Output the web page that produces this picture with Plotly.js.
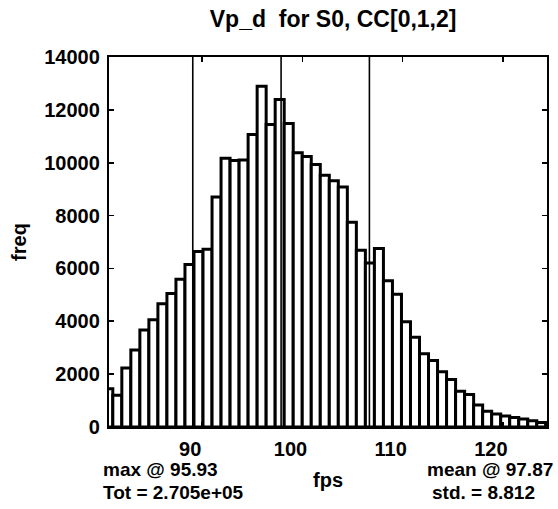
<!DOCTYPE html>
<html>
<head>
<meta charset="utf-8">
<script src="https://cdn.plot.ly/plotly-3.0.1.min.js"></script>
<style>html,body{margin:0;padding:0;background:#fff;}#chart{width:558px;height:509px;}</style>
</head>
<body>
<div id="chart"></div>
<script>
// Bin centres (fps) of the histogram bars
var binCenters = [80.63, 81.53, 82.43, 83.33, 84.23, 85.13, 86.03, 86.93, 87.83, 88.73,
  89.63, 90.53, 91.43, 92.33, 93.23, 94.13, 95.03, 95.93, 96.83, 97.73,
  98.63, 99.53, 100.43, 101.33, 102.23, 103.13, 104.03, 104.93, 105.83, 106.73,
  107.63, 108.53, 109.43, 110.33, 111.23, 112.13, 113.03, 113.93, 114.83, 115.73,
  116.63, 117.53, 118.43, 119.33, 120.23, 121.13, 122.03, 122.93, 123.83, 124.73];
// Frequency per bin
var freq = [1450, 1200, 2230, 2910, 3670, 4060, 4660, 5050, 5590, 6150,
  6640, 6730, 8700, 10170, 10080, 10100, 11070, 12890, 11450, 12390,
  11480, 10375, 10235, 9930, 9530, 9320, 9085, 7750, 6690, 6210,
  6750, 5530, 5025, 3985, 3393, 2770, 2515, 2087, 1800, 1350,
  1230, 830, 600, 490, 420, 360, 300, 240, 170, 100];
var binWidth = 0.9;
// mean - std, mean, mean + std
var refLines = [89.058, 97.87, 106.682];
var yTicks = [0, 2000, 4000, 6000, 8000, 10000, 12000, 14000];
var xTicks = [90, 100, 110, 120];
var titleText = "Vp_d\u00a0 for S0, CC[0,1,2]";
var statsLeft = ["max @ 95.93", "Tot = 2.705e+05"];
var statsRight = ["mean @ 97.87", "std. = 8.812"];

var lx = [], ly = [];
refLines.forEach(function (v) { lx.push(v, v, null); ly.push(0, 14000, null); });

var font = "Liberation Sans, Arial, sans-serif";
var data = [
  {
    type: "bar", x: binCenters, y: freq, width: binWidth,
    marker: { color: "#ffffff", line: { color: "#000000", width: 3 } },
    hoverinfo: "x+y"
  },
  {
    type: "scatter", mode: "lines", x: lx, y: ly,
    line: { color: "#000000", width: 1.6 }, hoverinfo: "skip"
  }
];

var axisCommon = {
  showline: true, linecolor: "#000", linewidth: 2.2, mirror: "ticks",
  ticks: "inside", ticklen: 5, tickwidth: 1.6, tickcolor: "#000",
  showgrid: false, zeroline: false,
  tickfont: { family: font, size: 20, color: "#000", weight: "bold" }
};

var layout = {
  width: 558, height: 509,
  margin: { l: 109, r: 11, t: 57, b: 82 },
  paper_bgcolor: "#fff", plot_bgcolor: "#fff",
  showlegend: false, bargap: 0,
  title: {
    text: titleText, x: 0.597, xanchor: "center", y: 0.962, yanchor: "middle",
    font: { family: font, size: 23, color: "#000", weight: "bold" }
  },
  xaxis: Object.assign({}, axisCommon, {
    range: [80.7, 124.4], tickvals: xTicks, ticktext: xTicks.map(String),
    ticklabelstandoff: 3, ticklabelshift: -12,
    title: { text: "fps", standoff: 14, font: { family: font, size: 20, color: "#000", weight: "bold" } }
  }),
  yaxis: Object.assign({}, axisCommon, {
    range: [0, 14000], tickvals: yTicks, ticktext: yTicks.map(String),
    ticklabelstandoff: 3,
    title: { text: "freq", standoff: 12, font: { family: font, size: 20, color: "#000", weight: "bold" } }
  }),
  annotations: [
    { text: statsLeft[0], xref: "paper", yref: "paper", x: -0.018, y: -0.116, xanchor: "left", yanchor: "middle", showarrow: false, font: { family: font, size: 19, color: "#000", weight: "bold" } },
    { text: statsLeft[1], xref: "paper", yref: "paper", x: -0.018, y: -0.178, xanchor: "left", yanchor: "middle", showarrow: false, font: { family: font, size: 19, color: "#000", weight: "bold" } },
    { text: statsRight[0], xref: "paper", yref: "paper", x: 0.7215, y: -0.116, xanchor: "left", yanchor: "middle", showarrow: false, font: { family: font, size: 19, color: "#000", weight: "bold" } },
    { text: statsRight[1], xref: "paper", yref: "paper", x: 0.733, y: -0.178, xanchor: "left", yanchor: "middle", showarrow: false, font: { family: font, size: 19, color: "#000", weight: "bold" } }
  ]
};

Plotly.newPlot("chart", data, layout, { staticPlot: true, displayModeBar: false });
</script>
</body>
</html>
